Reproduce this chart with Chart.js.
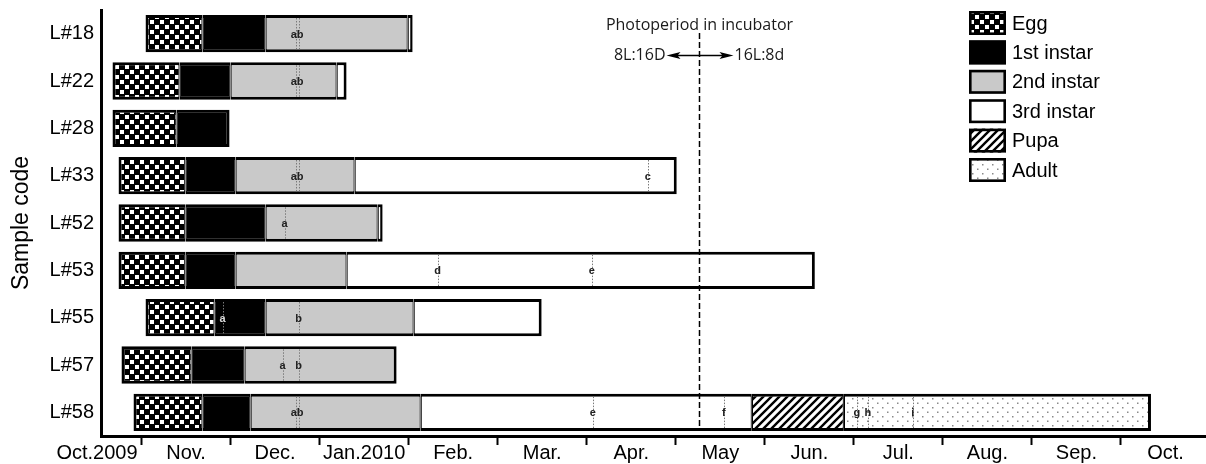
<!DOCTYPE html>
<html><head><meta charset="utf-8">
<script src="https://cdn.jsdelivr.net/npm/chart.js@4.4.1/dist/chart.umd.min.js"></script>
<style>html,body{margin:0;padding:0;background:#fff;}canvas{display:block;}</style>
</head><body>
<canvas id="c" width="1206" height="464"></canvas>
<script>
// ---- DATA (x unit = months; 0 = 1 Oct 2009, 1 = 1 Nov 2009, ..., 12 = 1 Oct 2010) ----
const samples    = ['L#18','L#22','L#28','L#33','L#52','L#53','L#55','L#57','L#58'];
const stageNames = ['Egg','1st instar','2nd instar','3rd instar','Pupa','Adult'];
const eggStart   = [1.045,0.674,0.674,0.742,0.742,0.742,1.045,0.775,0.910];
const eggEnd     = [1.685,1.427,1.393,1.494,1.494,1.494,1.820,1.562,1.685];
const instar1End = [2.393,2.000,1.989,2.056,2.393,2.056,2.393,2.157,2.225];
const instar2End = [3.989,3.191,null,3.393,3.652,3.303,4.056,3.865,4.135];
const instar3End = [4.045,3.303,null,7.011,3.708,8.562,5.494,null,7.854];
const pupaEnd    = [null,null,null,null,null,null,null,null,8.888];
const adultEnd   = [null,null,null,null,null,null,null,null,12.337];
const monthLabels = ['Oct.2009','Nov.','Dec.','Jan.2010','Feb.','Mar.','Apr.','May','Jun.','Jul.','Aug.','Sep.','Oct.'];
const monthTickValues = [0.5,1.5,2.5,3.5,4.5,5.5,6.5,7.5,8.5,9.5,10.5,11.5,12.5];
// dotted marker lines (row index, position)
const markerLineRow   = [0,0,1,1,3,3,3,4,5,5,6,6,7,7,8,8,8,8,8,8,8];
const markerLineValue = [2.730,2.764,2.730,2.764,2.730,2.764,6.685,2.607,4.326,6.056,1.910,2.764,2.584,2.764,2.730,2.764,6.067,7.539,9.034,9.157,9.663];
// marker letters (row index, position, text)
const markerTextRow   = [0,1,3,3,4,5,5,6,6,7,7,8,8,8,8,8,8];
const markerTextValue = [2.747,2.747,2.747,6.685,2.607,4.326,6.056,1.910,2.764,2.584,2.764,2.747,6.067,7.539,9.034,9.157,9.663];
const markerText      = ['ab','ab','ab','c','a','d','e','a','b','a','b','ab','e','f','g','h','i'];
const photoperiodSwitch = 7.258;
const photoperiodTitle = 'Photoperiod in incubator';
const photoperiodLeft = '8L:16D';
const photoperiodRight = '16L:8d';

// ---- patterns ----
function makePattern(w, h, draw) {
  const c = document.createElement('canvas'); c.width = w; c.height = h;
  const g = c.getContext('2d'); draw(g, w, h);
  return g.createPattern(c, 'repeat');
}
const checker = makePattern(10, 10, (g) => {
  g.fillStyle = '#000'; g.fillRect(0, 0, 10, 10);
  g.fillStyle = '#fff'; g.fillRect(0, 0, 4, 4); g.fillRect(5, 5, 4, 4);
});
const hatch = makePattern(8, 8, (g) => {
  g.fillStyle = '#fff'; g.fillRect(0, 0, 8, 8);
  g.strokeStyle = '#000'; g.lineWidth = 2.4;
  g.beginPath();
  g.moveTo(-2, 10); g.lineTo(10, -2);
  g.moveTo(-2, 2); g.lineTo(2, -2);
  g.moveTo(6, 10); g.lineTo(10, 6);
  g.stroke();
});
const dots = makePattern(10, 9, (g) => {
  g.fillStyle = '#fff'; g.fillRect(0, 0, 10, 9);
  g.fillStyle = '#8a8a8a';
  g.fillRect(2, 2, 1.5, 1.5); g.fillRect(7, 6.5, 1.5, 1.5);
});
const fills = [checker, '#000000', '#c9c9c9', '#ffffff', hatch, dots];

// ---- build datasets from arrays ----
const bounds = [eggStart, eggEnd, instar1End, instar2End, instar3End, pupaEnd, adultEnd];
const rowStart = samples.map((s, i) => eggStart[i]);
const rowEnd = samples.map((s, i) => { let e = null; bounds.forEach(b => { if (b[i] != null) e = b[i]; }); return e; });

const datasets = stageNames.map((name, k) => ({
  label: name,
  data: samples.map((s, i) => (bounds[k][i] != null && bounds[k + 1][i] != null) ? [bounds[k][i], bounds[k + 1][i]] : null),
  backgroundColor: fills[k],
  borderColor: '#000',
  borderSkipped: false,
  grouped: false,
  barPercentage: 0.79,
  categoryPercentage: 1.0,
  borderWidth: (ctx) => {
    const v = ctx.raw; if (!v) return 0;
    const i = ctx.dataIndex;
    return { top: 3, bottom: 3,
      left: Math.abs(v[0] - rowStart[i]) < 1e-9 ? 3 : 1.2,
      right: Math.abs(v[1] - rowEnd[i]) < 1e-9 ? 3 : 1.2 };
  }
}));

const FONT = '"Liberation Sans", Arial, Helvetica, sans-serif';
Chart.defaults.font.family = FONT;
Chart.defaults.color = '#000';

// markers + photoperiod annotation
const annotations = {
  id: 'annotations',
  afterDatasetsDraw(chart) {
    const {ctx, chartArea} = chart;
    const xs = chart.scales.x, ys = chart.scales.y;
    const half = (ys.getPixelForValue(1) - ys.getPixelForValue(0)) * 0.79 / 2 - 3;
    ctx.save();
    ctx.strokeStyle = '#7a7a7a'; ctx.lineWidth = 1; ctx.setLineDash([1.5, 1.5]);
    markerLineValue.forEach((v, j) => {
      const x = Math.round(xs.getPixelForValue(v)) + 0.5;
      const yc = ys.getPixelForValue(markerLineRow[j]);
      ctx.beginPath(); ctx.moveTo(x, yc - half); ctx.lineTo(x, yc + half); ctx.stroke();
    });
    ctx.setLineDash([]);
    ctx.font = 'bold 11px ' + FONT;
    ctx.textAlign = 'center'; ctx.textBaseline = 'middle';
    markerText.forEach((t, j) => {
      const r = markerTextRow[j], v = markerTextValue[j];
      const onBlack = v > eggEnd[r] && v < instar1End[r];
      ctx.fillStyle = onBlack ? '#d8d8d8' : '#222';
      ctx.fillText(t, xs.getPixelForValue(v), ys.getPixelForValue(r) + 1);
    });
    const px = Math.round(xs.getPixelForValue(photoperiodSwitch)) + 0.5;
    ctx.strokeStyle = '#000'; ctx.lineWidth = 1.5; ctx.setLineDash([6, 3]);
    ctx.beginPath(); ctx.moveTo(px, 33); ctx.lineTo(px, chartArea.bottom - 6); ctx.stroke();
    ctx.setLineDash([]);
    ctx.fillStyle = '#1a1a1a';
    ctx.font = '16px "Open Sans", ' + FONT;
    ctx.textAlign = 'center'; ctx.textBaseline = 'middle';
    ctx.fillText(photoperiodTitle, px, 25);
    const ay = 55.5, a0 = px - 33, a1 = px + 34;
    ctx.textAlign = 'right'; ctx.fillText(photoperiodLeft, a0 - 1, ay);
    ctx.textAlign = 'left'; ctx.fillText(photoperiodRight, a1 + 1, ay);
    ctx.lineWidth = 1.5; ctx.strokeStyle = '#000';
    ctx.beginPath(); ctx.moveTo(a0 + 6, ay); ctx.lineTo(a1 - 6, ay); ctx.stroke();
    ctx.fillStyle = '#000';
    ctx.beginPath(); ctx.moveTo(a0, ay); ctx.lineTo(a0 + 14, ay - 3.5); ctx.lineTo(a0 + 11, ay); ctx.lineTo(a0 + 14, ay + 3.5); ctx.closePath(); ctx.fill();
    ctx.beginPath(); ctx.moveTo(a1, ay); ctx.lineTo(a1 - 14, ay - 3.5); ctx.lineTo(a1 - 11, ay); ctx.lineTo(a1 - 14, ay + 3.5); ctx.closePath(); ctx.fill();
    ctx.restore();
  }
};

// legend drawn inside plot area (top right)
const insideLegend = {
  id: 'insideLegend',
  afterDraw(chart) {
    const {ctx} = chart;
    const lx = 969, ly = 11, bw = 37, bh = 24, step = 29.4;
    ctx.save();
    chart.data.datasets.forEach((ds, k) => {
      const y = ly + k * step;
      ctx.fillStyle = ds.backgroundColor;
      ctx.fillRect(lx, y, bw, bh);
      ctx.strokeStyle = '#000'; ctx.lineWidth = 2.6;
      ctx.strokeRect(lx + 1.3, y + 1.3, bw - 2.6, bh - 2.6);
      ctx.fillStyle = '#000'; ctx.font = '20px ' + FONT;
      ctx.textAlign = 'left'; ctx.textBaseline = 'middle';
      ctx.fillText(ds.label, lx + bw + 6, y + bh / 2 + 1);
    });
    ctx.restore();
  }
};

new Chart(document.getElementById('c'), {
  type: 'bar',
  data: { labels: samples, datasets },
  options: {
    indexAxis: 'y',
    responsive: false,
    animation: false,
    layout: { padding: { top: 10, right: 0, bottom: 0, left: 0 } },
    plugins: { legend: { display: false }, tooltip: { enabled: false } },
    scales: {
      x: {
        type: 'linear',
        min: 0.545, max: 12.955,
        afterBuildTicks: (scale) => { scale.ticks = monthTickValues.map(v => ({ value: v })); },
        afterFit: (scale) => { scale.height = 28; scale.paddingLeft = 0; scale.paddingRight = 0; },
        ticks: {
          autoSkip: false, maxRotation: 0, minRotation: 0,
          padding: -2,
          font: { size: 20, lineHeight: 1.0 },
          color: '#000',
          callback: (v, i) => monthLabels[i]
        },
        grid: { display: true, offset: true, drawOnChartArea: false, drawTicks: true, tickLength: 9, tickColor: '#000', tickWidth: 2 },
        border: { display: true, color: '#000', width: 3 }
      },
      y: {
        type: 'category',
        afterFit: (scale) => { scale.width = 101; scale.paddingTop = 0; scale.paddingBottom = 0; },
        ticks: { padding: 7, font: { size: 20 }, color: '#000' },
        grid: { display: false, drawTicks: false, tickLength: 0 },
        border: { display: true, color: '#000', width: 3 },
        title: { display: true, text: 'Sample code', font: { size: 23 }, color: '#000', padding: { top: 8, bottom: 0 } }
      }
    }
  },
  plugins: [annotations, insideLegend]
});
</script>
</body></html>
